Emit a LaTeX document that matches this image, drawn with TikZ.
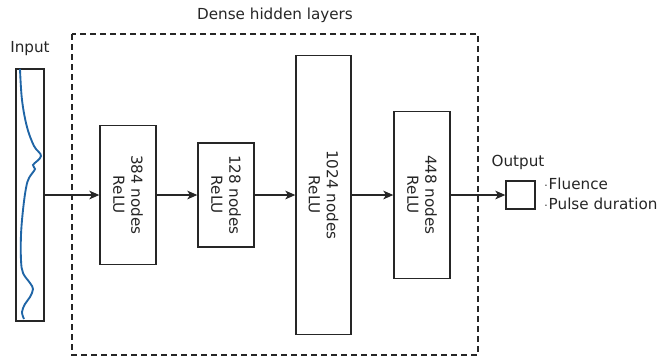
\documentclass[tikz,border=0pt]{standalone}
\usepackage{fontspec}
\setmainfont{DejaVu Sans}
\usetikzlibrary{arrows.meta}
\begin{document}
\begin{tikzpicture}[x=0.75pt,y=-0.75pt,
  layer/.style={draw=black!85, line width=1pt, fill=white, inner sep=0pt},
  link/.style={draw=black!85, line width=1pt, -{Stealth[length=7.5pt,width=6.5pt,inset=2pt]}},
  lbl/.style={font=\fontsize{11.4}{13.5}\selectfont, text=black!85}]
\useasboundingbox (0,0) rectangle (662,362);

% input spectrum box
\node[layer, minimum width=28*0.75pt, minimum height=252*0.75pt] (in) at (30,195) {};
\node[lbl] (inlbl) at (30,49) {Input};
\draw[color={rgb,255:red,31;green,101;blue,166}, line width=1.4pt]
  plot[smooth, tension=0.6] coordinates {
   (20,69) (22,100) (27,127) (34,146) (41,156) (33,165) (35,169) (29,178) (26,188)
   (23,210) (21,235) (21,260) (23,273) (30,283) (33,289) (30,297) (25,304) (22,312) (24,319)};

% dense hidden layers
\draw[dash pattern=on 4.5pt off 3pt, line width=1pt, draw=black!85] (72,34) rectangle (478,355);
\node[lbl] (dense) at (275,15) {Dense hidden layers};

\node[layer, minimum width=56*0.75pt, minimum height=139*0.75pt] (l1) at (128,195) {};
\node[layer, minimum width=56*0.75pt, minimum height=104*0.75pt] (l2) at (226,195) {};
\node[layer, minimum width=55*0.75pt, minimum height=279*0.75pt] (l3) at (323.5,195) {};
\node[layer, minimum width=56*0.75pt, minimum height=167*0.75pt] (l4) at (422,195) {};

\foreach \n/\t in {l1/384, l2/128, l3/1024, l4/448}
  \node[lbl, rotate=-90, align=center] at (\n.center) {\t\ nodes\\ReLU};

% output
\node[layer, minimum width=29*0.75pt, minimum height=28*0.75pt] (out) at (520.5,195) {};
\node[lbl] (outlbl) at (518,162) {Output};
\node[lbl, anchor=west, inner sep=0pt] (fl) at (544,184) {{\fontsize{8}{8}\selectfont·}\kern0.8pt Fluence};
\node[lbl, anchor=west, inner sep=0pt] (pd) at (544,204) {{\fontsize{8}{8}\selectfont·}\kern0.8pt Pulse duration};

% connectors
\draw[link] (in.east) -- (l1.west);
\draw[link] (l1.east) -- (l2.west);
\draw[link] (l2.east) -- (l3.west);
\draw[link] (l3.east) -- (l4.west);
\draw[link] (l4.east) -- (out.west);
\end{tikzpicture}
\end{document}
